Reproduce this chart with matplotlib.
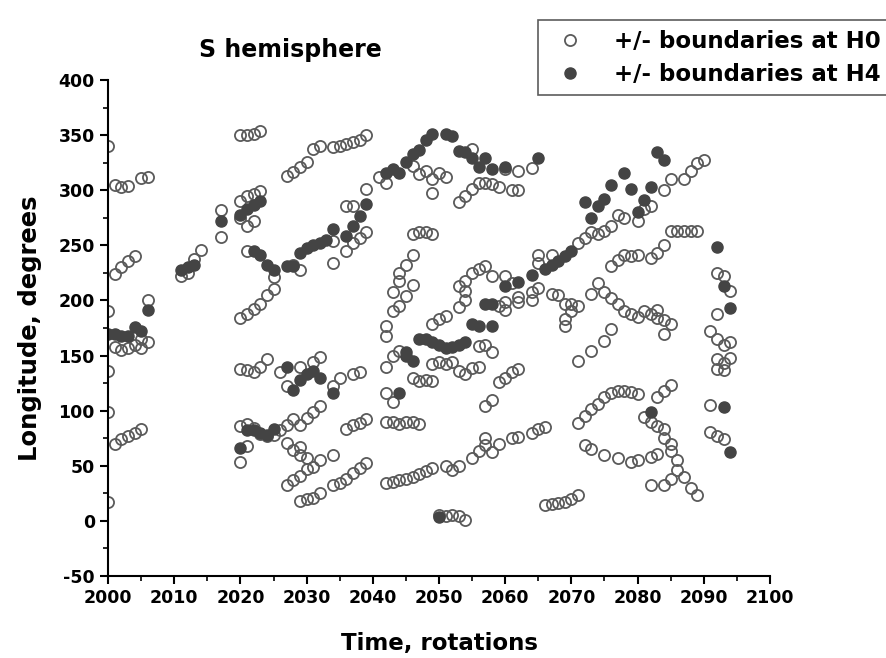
import matplotlib
matplotlib.use("Agg")
from matplotlib import pyplot as plt
from matplotlib.ticker import MultipleLocator

# +/- boundaries at H0 (open circles): (rotation, longitude)
h0_points = [
    (2000, 340), (2000, 190), (2000, 136), (2000, 99), (2000, 17),
    (2001, 305), (2002, 303), (2003, 304), (2005, 311), (2006, 312),
    (2001, 224), (2002, 230), (2003, 236), (2004, 240),
    (2001, 158), (2002, 155), (2003, 157), (2004, 160), (2005, 157), (2006, 162), (2005, 165),
    (2006, 200),
    (2001, 70), (2002, 74), (2003, 77), (2004, 80), (2005, 83),
    (2011, 222), (2012, 225), (2013, 238), (2014, 246),
    (2017, 258), (2017, 282),
    (2020, 350), (2021, 350), (2022, 351), (2023, 354),
    (2020, 275), (2020, 290), (2021, 295), (2022, 297), (2023, 299), (2021, 268), (2022, 272),
    (2021, 245), (2025, 221),
    (2020, 184), (2021, 188), (2022, 192), (2023, 197), (2024, 205), (2025, 210),
    (2020, 138), (2021, 137), (2022, 135), (2023, 140), (2024, 147),
    (2020, 86), (2021, 88), (2022, 84), (2023, 79), (2024, 77), (2025, 78), (2026, 82),
    (2020, 53), (2021, 68),
    (2027, 313), (2028, 317), (2029, 321), (2030, 326),
    (2031, 338), (2032, 340), (2034, 339), (2035, 340), (2036, 342), (2037, 344), (2038, 346), (2039, 350),
    (2039, 301), (2036, 286), (2037, 286),
    (2034, 254), (2034, 234), (2036, 245), (2037, 252), (2038, 257), (2039, 262), (2029, 228), (2028, 232),
    (2026, 135), (2027, 122), (2029, 140), (2031, 144), (2032, 149),
    (2034, 122), (2035, 130), (2037, 133), (2038, 135),
    (2027, 87), (2028, 92), (2029, 87), (2030, 93), (2031, 99), (2032, 104),
    (2036, 83), (2037, 87), (2038, 89), (2039, 92),
    (2027, 71), (2028, 64), (2029, 67), (2029, 60), (2030, 57),
    (2027, 32), (2028, 37), (2029, 41), (2030, 47), (2031, 49), (2032, 55), (2034, 60),
    (2029, 18), (2030, 20), (2031, 21), (2032, 25),
    (2034, 32), (2035, 34), (2036, 38), (2037, 43), (2038, 48), (2039, 52),
    (2041, 312), (2042, 307),
    (2046, 322), (2047, 315), (2048, 318), (2049, 310), (2049, 298), (2050, 316), (2051, 312),
    (2053, 289), (2054, 295), (2055, 301), (2056, 307), (2057, 307), (2058, 306), (2059, 303), (2061, 300), (2062, 300),
    (2055, 338), (2060, 319), (2062, 318), (2064, 320),
    (2046, 260), (2047, 262), (2048, 262), (2049, 260),
    (2042, 168), (2042, 177), (2043, 190), (2044, 195), (2043, 208), (2045, 204), (2044, 218), (2046, 214),
    (2044, 225), (2045, 232), (2046, 241),
    (2042, 140), (2042, 116), (2043, 108),
    (2043, 150), (2044, 154),
    (2049, 142), (2050, 144), (2051, 142), (2052, 144), (2053, 136), (2054, 133), (2055, 139), (2056, 140),
    (2056, 159), (2057, 160), (2058, 153),
    (2047, 127), (2048, 128), (2049, 127), (2046, 130),
    (2042, 90), (2043, 90), (2044, 88), (2045, 90), (2046, 90), (2047, 88),
    (2042, 34), (2043, 35), (2044, 37), (2045, 38), (2046, 40), (2047, 42), (2048, 45), (2049, 48),
    (2050, 5), (2051, 4), (2052, 5), (2053, 4), (2054, 1),
    (2051, 50), (2052, 46), (2053, 50), (2055, 57), (2056, 63), (2057, 69), (2057, 75),
    (2058, 62), (2059, 70), (2061, 75), (2062, 76), (2064, 80), (2065, 83), (2066, 85),
    (2057, 104), (2058, 110), (2059, 126), (2060, 130), (2061, 135), (2062, 138),
    (2049, 179), (2050, 183), (2051, 186), (2053, 194), (2054, 200), (2054, 209), (2053, 213), (2054, 218),
    (2055, 225), (2056, 229), (2057, 231), (2058, 222), (2060, 222), (2061, 216),
    (2059, 195), (2060, 199), (2062, 199), (2060, 191), (2062, 203),
    (2064, 208), (2065, 211), (2067, 206), (2068, 205), (2069, 197), (2070, 197), (2071, 195), (2070, 190),
    (2069, 183), (2069, 177), (2064, 200),
    (2065, 241), (2067, 241), (2065, 234),
    (2071, 252), (2072, 257), (2073, 262), (2074, 260), (2075, 263), (2076, 268),
    (2073, 206), (2074, 216), (2075, 208), (2076, 202), (2077, 197), (2078, 190), (2079, 188), (2080, 185),
    (2081, 190), (2082, 188), (2083, 191), (2083, 184), (2084, 182), (2085, 179), (2084, 170), (2076, 174),
    (2071, 145), (2073, 154), (2075, 163),
    (2071, 89), (2072, 95), (2073, 101), (2074, 106), (2075, 112), (2076, 116), (2077, 118), (2078, 118),
    (2079, 117), (2080, 115),
    (2072, 69), (2073, 65), (2075, 60), (2077, 57), (2079, 53), (2080, 55), (2082, 58), (2083, 61), (2085, 63), (2086, 55),
    (2066, 14), (2067, 15), (2068, 16), (2069, 17), (2070, 20), (2071, 23),
    (2083, 112), (2084, 118), (2085, 123),
    (2081, 94), (2082, 90), (2083, 86), (2084, 83), (2084, 75), (2085, 70),
    (2082, 32), (2084, 32), (2085, 38), (2086, 46), (2087, 40), (2088, 30), (2089, 23),
    (2076, 231), (2077, 237), (2078, 241), (2079, 240), (2080, 241), (2082, 239), (2083, 243), (2084, 250),
    (2077, 278), (2078, 275), (2080, 272), (2081, 283), (2082, 286), (2084, 300), (2085, 310), (2087, 310),
    (2088, 318), (2089, 325), (2090, 328),
    (2085, 263), (2086, 263), (2087, 263), (2088, 263), (2089, 263),
    (2092, 225), (2093, 222), (2094, 209), (2092, 188), (2091, 172), (2092, 165), (2093, 160), (2094, 162),
    (2092, 147), (2093, 143), (2094, 148), (2093, 137), (2092, 138), (2091, 105), (2091, 81), (2092, 77), (2093, 74),
]

# +/- boundaries at H4 (filled circles)
h4_points = [
    (2000, 170), (2001, 170), (2002, 168), (2003, 168), (2004, 176), (2005, 172), (2006, 191),
    (2011, 228), (2012, 230), (2013, 232),
    (2017, 272),
    (2020, 278), (2021, 283), (2022, 287), (2023, 290),
    (2022, 245), (2023, 241), (2024, 232), (2025, 228),
    (2027, 231), (2028, 231), (2029, 243), (2030, 248), (2031, 250), (2032, 252), (2033, 255), (2034, 265),
    (2036, 259), (2037, 268), (2038, 277), (2039, 288),
    (2020, 66), (2021, 82), (2022, 82), (2023, 80), (2024, 78), (2025, 83),
    (2027, 140), (2028, 119), (2029, 128), (2030, 133), (2031, 136), (2032, 130), (2034, 116),
    (2042, 316), (2043, 319), (2044, 316), (2045, 326), (2046, 333), (2047, 337), (2048, 346), (2049, 351),
    (2051, 351), (2052, 349), (2053, 336), (2054, 335), (2055, 329), (2056, 321), (2057, 329), (2058, 319),
    (2060, 321), (2065, 329),
    (2044, 116),
    (2045, 153), (2046, 145), (2045, 150), (2047, 165), (2048, 165), (2049, 162), (2050, 160), (2051, 157),
    (2052, 158), (2053, 160), (2054, 162),
    (2050, 3),
    (2055, 179), (2056, 177), (2058, 177), (2057, 197), (2058, 197),
    (2060, 213), (2062, 217), (2064, 223), (2066, 229), (2067, 232), (2068, 236), (2069, 240), (2070, 245),
    (2072, 289), (2073, 275), (2074, 286), (2075, 292), (2076, 305), (2078, 316), (2079, 301), (2080, 280),
    (2081, 291), (2082, 303), (2083, 335), (2084, 328),
    (2082, 99),
    (2092, 249), (2093, 213), (2094, 193), (2093, 103), (2094, 62),
]

h0_rot = [p[0] for p in h0_points]
h0_lon = [p[1] for p in h0_points]
h4_rot = [p[0] for p in h4_points]
h4_lon = [p[1] for p in h4_points]

plt.rcParams['font.family'] = 'DejaVu Sans'
plt.rcParams['font.weight'] = 'bold'
plt.rcParams['axes.unicode_minus'] = False

fig = plt.figure(figsize=(8.86, 6.58), dpi=100)
ax = fig.add_axes([0.122, 0.125, 0.747, 0.753])

ax.plot(h0_rot, h0_lon, linestyle='none', marker='o', markersize=8,
        markerfacecolor='none', markeredgecolor='#5a5a5a', markeredgewidth=1.3,
        label='+/- boundaries at H0')
ax.plot(h4_rot, h4_lon, linestyle='none', marker='o', markersize=8,
        markerfacecolor='#444444', markeredgecolor='#444444', markeredgewidth=1.0,
        label='+/- boundaries at H4')

ax.set_xlim(2000, 2100)
ax.set_ylim(-50, 400)
ax.xaxis.set_major_locator(MultipleLocator(10))
ax.xaxis.set_minor_locator(MultipleLocator(5))
ax.yaxis.set_major_locator(MultipleLocator(50))
ax.yaxis.set_minor_locator(MultipleLocator(25))

ax.spines['top'].set_visible(False)
ax.spines['right'].set_visible(False)
ax.spines['left'].set_linewidth(1.5)
ax.spines['bottom'].set_linewidth(1.5)
ax.tick_params(which='major', direction='out', length=6, width=1.5, labelsize=12.5)
ax.tick_params(which='minor', direction='out', length=3.5, width=1.2)
for lbl in ax.get_xticklabels() + ax.get_yticklabels():
    lbl.set_fontweight('bold')

ax.set_xlabel('Time, rotations', fontsize=16.5, fontweight='bold', labelpad=18)
ax.set_ylabel('Longitude, degrees', fontsize=17.5, fontweight='bold', labelpad=12)

fig.text(290 / 886, 1 - 50 / 658, 'S hemisphere', fontsize=17, fontweight='bold',
         ha='center', va='center')

leg = fig.legend(loc='lower left', bbox_to_anchor=(538 / 886, (658 - 95) / 658),
                 prop={'size': 16.5, 'weight': 'bold'}, frameon=True, fancybox=False,
                 edgecolor='#333333', handletextpad=0.9, borderpad=0.4, labelspacing=0.45,
                 borderaxespad=0)
leg.get_frame().set_linewidth(1.2)

plt.savefig('out.png', dpi=100)
